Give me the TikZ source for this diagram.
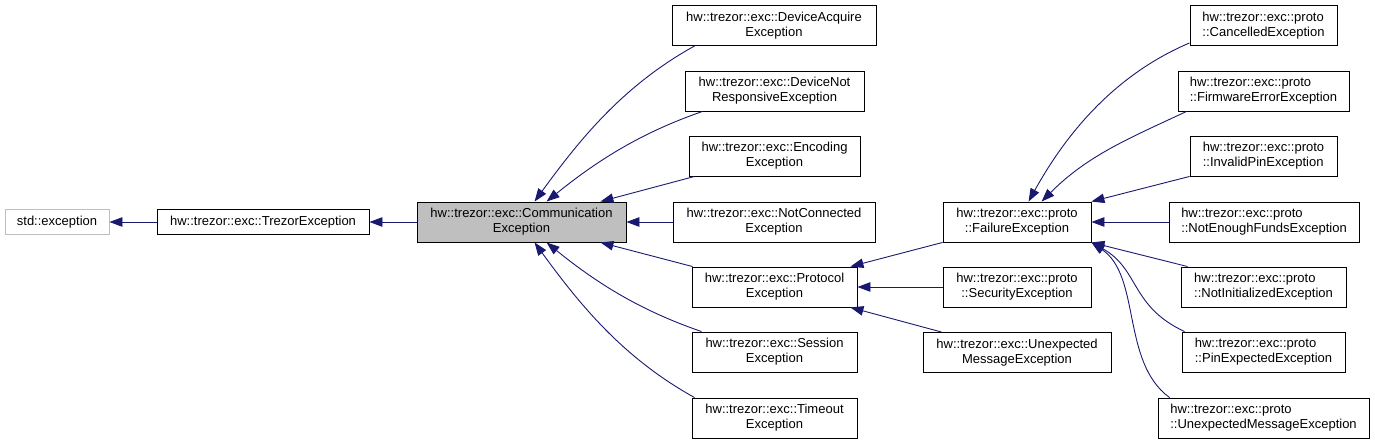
\documentclass[tikz,border=0pt]{standalone}
\usepackage{fontspec}
\setmainfont{Liberation Sans}
\usetikzlibrary{arrows.meta}
\definecolor{edgeblue}{RGB}{25,25,112}
\definecolor{boxgray}{RGB}{191,191,191}
\tikzset{
  cls/.style={draw=black, line width=0.9pt, inner sep=0pt, minimum height=40pt, align=center,
    font=\fontsize{13}{15}\selectfont},
  clsl/.style={cls, align=left},
  edge/.style={draw=edgeblue, line width=0.9pt, -{Triangle[length=13pt,width=9.5pt]}},
}
\begin{document}
\begin{tikzpicture}[x=1pt,y=1pt]
\useasboundingbox (0,0) rectangle (1375,-444);
% column 0/1
\node[cls, draw=boxgray, minimum width=104pt, minimum height=25pt] (std) at (57,-222) {std::exception};
\node[cls, minimum width=212pt, minimum height=25pt] (trezor) at (263,-222) {hw::trezor::exc::TrezorException};
\node[cls, fill=boxgray, minimum width=209pt] (comm) at (521.5,-222) {hw::trezor::exc::Communication\\Exception};
% column 2
\node[cls, minimum width=204pt] (devacq) at (774,-25.5) {hw::trezor::exc::DeviceAcquire\\Exception};
\node[cls, minimum width=179pt] (devnot) at (774.5,-91) {hw::trezor::exc::DeviceNot\\ResponsiveException};
\node[cls, minimum width=171pt] (encoding) at (774.5,-156) {hw::trezor::exc::Encoding\\Exception};
\node[cls, minimum width=202pt] (notconn) at (774,-222) {hw::trezor::exc::NotConnected\\Exception};
\node[cls, minimum width=165pt] (protocol) at (774.5,-287) {hw::trezor::exc::Protocol\\Exception};
\node[cls, minimum width=165pt] (session) at (774.5,-352) {hw::trezor::exc::Session\\Exception};
\node[cls, minimum width=165pt] (timeout) at (774.5,-418) {hw::trezor::exc::Timeout\\Exception};
% column 3
\node[cls, minimum width=148pt] (failure) at (1017,-222) {hw::trezor::exc::proto\\::FailureException};
\node[cls, minimum width=148pt] (security) at (1017,-287) {hw::trezor::exc::proto\\::SecurityException};
\node[cls, minimum width=188pt] (unexpmsg) at (1017,-352.5) {hw::trezor::exc::Unexpected\\MessageException};
% column 4
\node[clsl, minimum width=147pt] (cancelled) at (1263.5,-25.5) {hw::trezor::exc::proto\\::CancelledException};
\node[clsl, minimum width=171pt] (firmware) at (1263.5,-91) {hw::trezor::exc::proto\\::FirmwareErrorException};
\node[clsl, minimum width=147pt] (invalidpin) at (1263.5,-156) {hw::trezor::exc::proto\\::InvalidPinException};
\node[clsl, minimum width=190pt] (notenough) at (1264,-222) {hw::trezor::exc::proto\\::NotEnoughFundsException};
\node[clsl, minimum width=165pt] (notinit) at (1263.5,-287) {hw::trezor::exc::proto\\::NotInitializedException};
\node[clsl, minimum width=163pt] (pinexp) at (1263.5,-352) {hw::trezor::exc::proto\\::PinExpectedException};
\node[clsl, minimum width=211pt] (unexpproto) at (1263.5,-418) {hw::trezor::exc::proto\\::UnexpectedMessageException};
% edges
\draw[edge] (trezor.west) -- (std.east);
\draw[edge] (comm.west) -- (trezor.east);
\draw[edge] ([xshift=23pt]devacq.south west) .. controls +(209:80) and +(54:80) .. ([xshift=118pt]comm.north west);
\draw[edge] ([xshift=18pt]devnot.south west) .. controls +(199:65) and +(39:65) .. ([xshift=130pt]comm.north west);
\draw[edge] ([xshift=6pt]encoding.south west) -- ([xshift=-26pt]comm.north east);
\draw[edge] (notconn.west) -- (comm.east);
\draw[edge] ([xshift=1pt]protocol.north west) -- ([xshift=-26pt]comm.south east);
\draw[edge] ([xshift=10pt]session.north west) .. controls +(161:65) and +(-39:65) .. ([xshift=130pt]comm.south west);
\draw[edge] ([xshift=3pt]timeout.north west) .. controls +(151:80) and +(-54:80) .. ([xshift=118pt]comm.south west);
\draw[edge] (failure.south west) -- ([xshift=-7pt]protocol.north east);
\draw[edge] (security.west) -- (protocol.east);
\draw[edge] ([xshift=19pt]unexpmsg.north west) -- ([xshift=-7pt]protocol.south east);
\draw[edge] ([yshift=3pt]cancelled.south west) .. controls +(203:80) and +(61:80) .. ([xshift=86pt]failure.north west);
\draw[edge] ([xshift=9pt]firmware.south west) .. controls +(205:65) and +(45:65) .. ([xshift=99pt]failure.north west);
\draw[edge] (invalidpin.south west) -- (failure.north east);
\draw[edge] (notenough.west) -- (failure.east);
\draw[edge] ([xshift=7pt]notinit.north west) -- (failure.south east);
\draw[edge] ([xshift=3pt]pinexp.north west) .. controls +(155:60) and +(-29:55) .. (failure.south east);
\draw[edge] ([xshift=12pt]unexpproto.north west) .. controls +(144:60) and +(-34:60) .. (failure.south east);
\end{tikzpicture}
\end{document}
